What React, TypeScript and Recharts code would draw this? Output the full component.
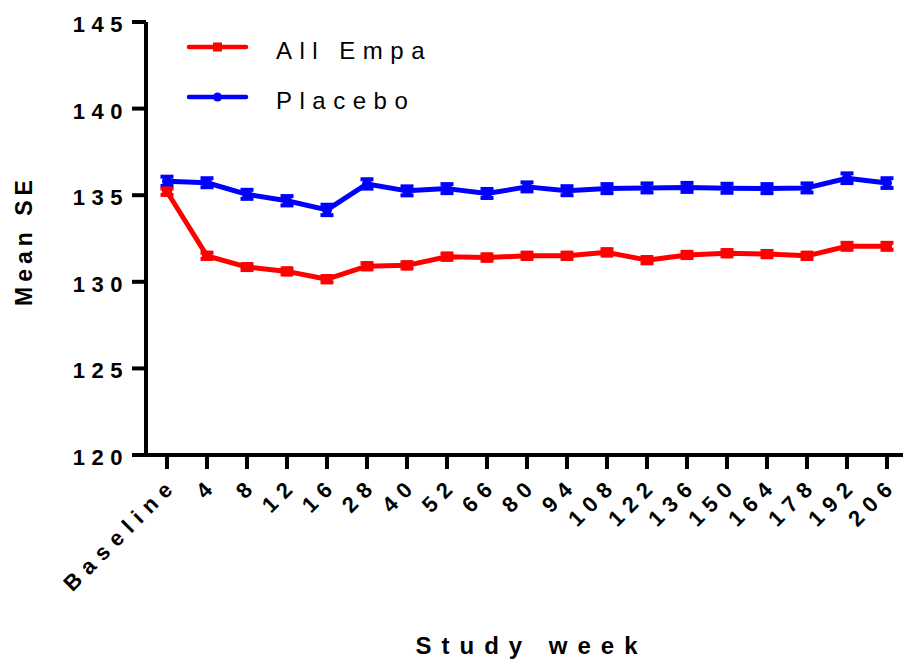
import React from 'react';
import { LineChart, Line, XAxis, YAxis, ErrorBar, Legend, Label } from 'recharts';

const weeks = ['Baseline', '4', '8', '12', '16', '28', '40', '52', '66', '80', '94', '108', '122', '136', '150', '164', '178', '192', '206'];
const empaMean = [135.2, 131.5, 130.85, 130.6, 130.15, 130.9, 130.95, 131.45, 131.4, 131.5, 131.5, 131.7, 131.25, 131.55, 131.65, 131.6, 131.5, 132.05, 132.05];
const empaSE = [0.18, 0.18, 0.17, 0.17, 0.18, 0.18, 0.18, 0.18, 0.18, 0.18, 0.18, 0.18, 0.18, 0.18, 0.18, 0.18, 0.18, 0.2, 0.2];
const placeboMean = [135.8, 135.72, 135.05, 134.68, 134.15, 135.65, 135.25, 135.38, 135.1, 135.48, 135.26, 135.38, 135.42, 135.45, 135.4, 135.38, 135.42, 135.98, 135.7];
const placeboSE = [0.27, 0.26, 0.26, 0.27, 0.3, 0.27, 0.26, 0.26, 0.26, 0.26, 0.26, 0.26, 0.26, 0.26, 0.26, 0.26, 0.26, 0.28, 0.28];
const yTicks = [120, 125, 130, 135, 140, 145];

const RED = '#ff0000';
const BLUE = '#0000ff';
const FONT = '"Liberation Sans", Arial, sans-serif';

const data = weeks.map((w, i) => ({
  week: w,
  empa: empaMean[i],
  empaErr: empaSE[i],
  placebo: placeboMean[i],
  placeboErr: placeboSE[i],
}));

const XTick = (props: any) => {
  const { x, y, payload } = props;
  return (
    <g transform={`translate(${x + 12},${y + 15})`}>
      <text
        x={0}
        y={0}
        textAnchor="end"
        transform="rotate(-45)"
        fontFamily={FONT}
        fontWeight={700}
        fontSize={22}
        letterSpacing={7.5}
        fill="#000"
      >
        {payload.value}
      </text>
    </g>
  );
};

const YTick = (props: any) => {
  const { x, y, payload } = props;
  return (
    <text x={x} y={y} dy={10} textAnchor="end" fontFamily={FONT} fontWeight={700} fontSize={22} letterSpacing={6.5} fill="#000">
      {payload.value}
    </text>
  );
};

const SquareDot = (props: any) => {
  const { cx, cy } = props;
  if (cx == null || cy == null) return null;
  return <rect x={cx - 5} y={cy - 5} width={10} height={10} fill={RED} />;
};

const CircleDot = (props: any) => {
  const { cx, cy } = props;
  if (cx == null || cy == null) return null;
  return <circle cx={cx} cy={cy} r={5} fill={BLUE} />;
};

const LegendBox = () => (
  <svg width={280} height={100} style={{ display: 'block' }}>
    <line x1={4} y1={22} x2={61} y2={22} stroke={RED} strokeWidth={4.5} strokeLinecap="round" />
    <rect x={28} y={17.5} width={9} height={9} fill={RED} />
    <text x={91} y={34} fontFamily={FONT} fontSize={24} letterSpacing={7.5} fill="#000">All Empa</text>
    <line x1={4} y1={72} x2={61} y2={72} stroke={BLUE} strokeWidth={4.5} strokeLinecap="round" />
    <circle cx={32.5} cy={72} r={4.5} fill={BLUE} />
    <text x={91} y={84} fontFamily={FONT} fontSize={24} letterSpacing={7.5} fill="#000">Placebo</text>
  </svg>
);

const YLabel = (props: any) => {
  const vb = props.viewBox || {};
  const cy = (vb.y ?? 22) + (vb.height ?? 433) / 2 + 2;
  return (
    <text
      x={32}
      y={cy}
      transform={`rotate(-90 32 ${cy})`}
      textAnchor="middle"
      fontFamily={FONT}
      fontWeight={700}
      fontSize={23}
      letterSpacing={5}
      fill="#000"
    >
      Mean SE
    </text>
  );
};

const XLabel = (props: any) => {
  const vb = props.viewBox || {};
  const cx = (vb.x ?? 146) + (vb.width ?? 757) / 2 + 7;
  return (
    <text x={cx} y={654} textAnchor="middle" fontFamily={FONT} fontWeight={700} fontSize={24} letterSpacing={10} fill="#000">
      Study week
    </text>
  );
};

export default function App() {
  return (
    <div style={{ position: 'absolute', left: 0, top: 0, width: 903, height: 659, background: '#fff' }}>
      <LineChart width={903} height={659} data={data} margin={{ top: 22, right: 0, bottom: 0, left: 0 }}>
        <XAxis
          dataKey="week"
          scale="point"
          padding={{ left: 21, right: 16 }}
          height={204}
          interval={0}
          tickSize={14}
          tickMargin={2}
          axisLine={{ stroke: '#000', strokeWidth: 4 }}
          tickLine={{ stroke: '#000', strokeWidth: 4 }}
          tick={<XTick />}
        >
          <Label content={<XLabel />} />
        </XAxis>
        <YAxis
          domain={[120, 145]}
          ticks={yTicks}
          width={146}
          interval={0}
          tickSize={14}
          tickMargin={3}
          axisLine={{ stroke: '#000', strokeWidth: 4 }}
          tickLine={{ stroke: '#000', strokeWidth: 4 }}
          tick={<YTick />}
        >
          <Label content={<YLabel />} />
        </YAxis>
        <Legend
          layout="vertical"
          align="center"
          verticalAlign="middle"
          wrapperStyle={{ left: 185, top: 25, width: 280 }}
          content={() => <LegendBox />}
        />
        <Line
          type="linear"
          dataKey="placebo"
          stroke={BLUE}
          strokeWidth={5}
          strokeLinejoin="round"
          dot={<CircleDot />}
          activeDot={false}
          isAnimationActive={false}
        >
          <ErrorBar dataKey="placeboErr" direction="y" width={6.5} strokeWidth={4} stroke={BLUE} isAnimationActive={false} />
        </Line>
        <Line
          type="linear"
          dataKey="empa"
          stroke={RED}
          strokeWidth={5}
          strokeLinejoin="round"
          dot={<SquareDot />}
          activeDot={false}
          isAnimationActive={false}
        >
          <ErrorBar dataKey="empaErr" direction="y" width={6.5} strokeWidth={4} stroke={RED} isAnimationActive={false} />
        </Line>
      </LineChart>
    </div>
  );
}
